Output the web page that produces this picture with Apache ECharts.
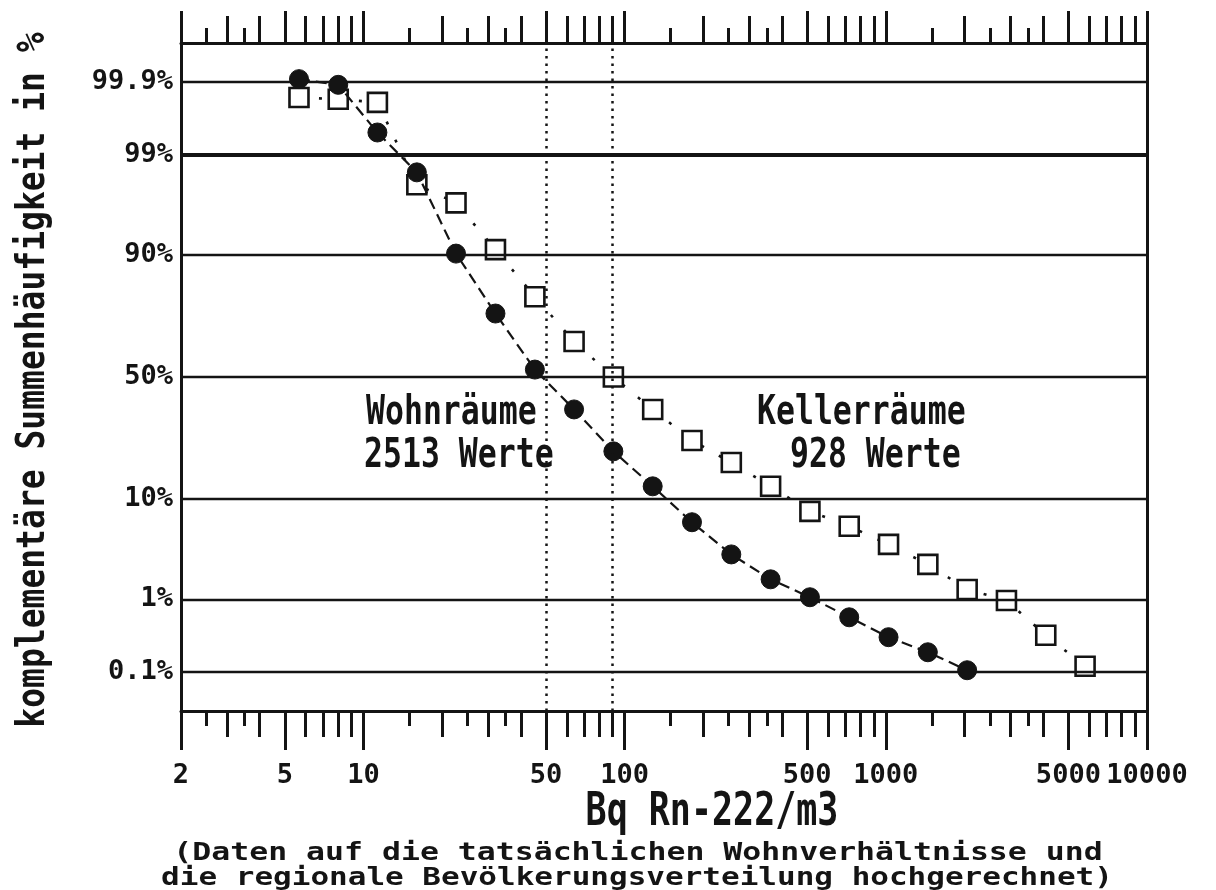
<!DOCTYPE html>
<html><head><meta charset="utf-8">
<script src="https://cdn.jsdelivr.net/npm/echarts@6/dist/echarts.min.js"></script>
<style>html,body{margin:0;padding:0;background:#fff}#c{width:1216px;height:890px}</style>
</head><body><div id="c"></div>
<script>
// Radon concentration classes (Bq/m3)
const radonValues = [5.66, 8, 11.3, 16, 22.6, 32, 45.3, 64, 90.5, 128, 181, 256, 362, 512, 724, 1024, 1448, 2048, 2896, 4096, 5793];
// complementary cumulative frequency in %
const wohnPercent = [99.91, 99.89, 99.48, 98.4, 90.2, 74.7, 53.1, 36.7, 21.8, 12.6, 6.4, 3.15, 1.70, 1.05, 0.59, 0.32, 0.196, 0.106];
const kellerPercent = [99.83, 99.82, 99.80, 97.8, 96.6, 90.9, 80.0, 64.5, 50.0, 36.7, 25.3, 18.5, 12.6, 7.95, 5.9, 3.97, 2.48, 1.30, 0.96, 0.34, 0.122];
const yTickPercents = [0.1, 1, 10, 50, 90, 99, 99.9];
const yTickLabels = ['0.1%', '1%', '10%', '50%', '90%', '99%', '99.9%'];
const xLabelValues = [2, 5, 10, 50, 100, 500, 1000, 5000, 10000];
const xLongTicks = [2, 5, 10, 50, 100, 500, 1000, 5000, 10000];
const xMediumTicks = [3, 4, 6, 7, 8, 9, 20, 30, 40, 60, 70, 80, 90, 200, 300, 400, 600, 700, 800, 900, 2000, 3000, 4000, 6000, 7000, 8000, 9000];
const xShortTicks = [2.5, 3.5, 15, 25, 35, 150, 250, 350, 1500, 2500, 3500];
const refLines = [50, 90];

// probability (normal) scale: inverse standard normal CDF
function probit(pct) {
  const p = pct / 100;
  const a = [-3.969683028665376e+01, 2.209460984245205e+02, -2.759285104469687e+02, 1.383577518672690e+02, -3.066479806614716e+01, 2.506628277459239e+00];
  const b = [-5.447609879822406e+01, 1.615858368580409e+02, -1.556989798598866e+02, 6.680131188771972e+01, -1.328068155288572e+01];
  const c = [-7.784894002430293e-03, -3.223964580411365e-01, -2.400758277161838e+00, -2.549732539343734e+00, 4.374664141464968e+00, 2.938163982698783e+00];
  const d = [7.784695709041462e-03, 3.224671290700398e-01, 2.445134137142996e+00, 3.754408661907416e+00];
  const pl = 0.02425;
  let q, r;
  if (p < pl) {
    q = Math.sqrt(-2 * Math.log(p));
    return (((((c[0]*q+c[1])*q+c[2])*q+c[3])*q+c[4])*q+c[5]) / ((((d[0]*q+d[1])*q+d[2])*q+d[3])*q+1);
  } else if (p <= 1 - pl) {
    q = p - 0.5; r = q * q;
    return (((((a[0]*r+a[1])*r+a[2])*r+a[3])*r+a[4])*r+a[5])*q / (((((b[0]*r+b[1])*r+b[2])*r+b[3])*r+b[4])*r+1);
  } else {
    q = Math.sqrt(-2 * Math.log(1 - p));
    return -(((((c[0]*q+c[1])*q+c[2])*q+c[3])*q+c[4])*q+c[5]) / ((((d[0]*q+d[1])*q+d[2])*q+d[3])*q+1);
  }
}
const yTickZ = yTickPercents.map(probit);

const INK = '#141414';
const MONO = "'DejaVu Sans Mono', monospace";
const labelFont = { fontFamily: MONO, fontWeight: 'bold', fontSize: 27, color: INK };

function xAxisDef(pos, ticks, len, showLine, showLabels) {
  return {
    type: 'log', logBase: 10, min: 2, max: 10000, position: pos, offset: 0,
    axisLine: { show: showLine, onZero: false, lineStyle: { color: INK, width: 3 } },
    axisTick: { show: true, customValues: ticks, length: len, inside: false, lineStyle: { color: INK, width: 3 } },
    axisLabel: showLabels ? Object.assign({ show: true, customValues: xLabelValues, margin: 51, formatter: v => String(v), hideOverlap: false }, labelFont) : { show: false },
    splitLine: { show: false }, minorTick: { show: false }
  };
}

const chart = echarts.init(document.getElementById('c'), null, { renderer: 'canvas' });
chart.setOption({
  animation: false,
  backgroundColor: '#fff',
  grid: { left: 181, right: 69, top: 43, bottom: 179, containLabel: false },
  xAxis: [
    xAxisDef('bottom', xLongTicks, 39, true, true),
    xAxisDef('bottom', xMediumTicks, 26, false, false),
    xAxisDef('bottom', xShortTicks, 15, false, false),
    xAxisDef('top', xLongTicks, 32, true, false),
    xAxisDef('top', xMediumTicks, 27, false, false),
    xAxisDef('top', xShortTicks, 15, false, false)
  ],
  yAxis: [
    {
      type: 'value', min: -3.5, max: 3.5, position: 'left',
      axisLine: { show: true, onZero: false, lineStyle: { color: INK, width: 3 } },
      axisTick: { show: false },
      splitLine: { show: false },
      axisLabel: Object.assign({
        show: true, customValues: yTickZ, margin: 8,
        formatter: v => {
          let best = 0;
          yTickZ.forEach((z, i) => { if (Math.abs(z - v) < Math.abs(yTickZ[best] - v)) best = i; });
          return yTickLabels[best];
        }
      }, labelFont)
    },
    {
      type: 'value', min: -3.5, max: 3.5, position: 'right',
      axisLine: { show: true, onZero: false, lineStyle: { color: INK, width: 3 } },
      axisTick: { show: false }, axisLabel: { show: false }, splitLine: { show: false }
    }
  ],
  series: [
    {
      name: 'grid', type: 'line', data: [], z: 1, silent: true,
      markLine: {
        silent: true, symbol: ['none', 'none'], label: { show: false }, animation: false,
        data: yTickZ.map((z, i) => ({ yAxis: z, lineStyle: { color: INK, type: 'solid', width: yTickLabels[i] === '99%' ? 4 : 2.4 } }))
          .concat(refLines.map(v => ({ xAxis: v, lineStyle: { color: INK, type: [2.5, 5], width: 2.5 } })))
      }
    },
    {
      name: 'Kellerräume', type: 'line', z: 3,
      data: kellerPercent.map((p, i) => [radonValues[i], probit(p)]),
      symbol: 'rect', symbolSize: 19,
      itemStyle: { color: '#fff', borderColor: INK, borderWidth: 2.6 },
      lineStyle: { color: INK, width: 2.6, type: [3, 17] }
    },
    {
      name: 'Wohnräume', type: 'line', z: 4,
      data: wohnPercent.map((p, i) => [radonValues[i], probit(p)]),
      symbol: 'circle', symbolSize: 19,
      itemStyle: { color: INK, borderColor: INK, borderWidth: 1 },
      lineStyle: { color: INK, width: 2.2, type: [11, 6] }
    }
  ],
  graphic: [
    { type: 'text', x: 34, y: 380, rotation: Math.PI / 2, scaleX: 1, scaleY: 1.2,
      style: { text: 'komplementäre Summenhäufigkeit in %', font: "bold 33px " + MONO, fill: INK, textAlign: 'center', textVerticalAlign: 'middle', align: 'center', verticalAlign: 'middle' } },
    { type: 'text', x: 712, y: 813, scaleY: 1.3,
      style: { text: 'Bq Rn-222/m3', font: "bold 35px " + MONO, fill: INK, textAlign: 'center', textVerticalAlign: 'middle', align: 'center', verticalAlign: 'middle' } },
    { type: 'text', x: 638, y: 853, scaleY: 0.8,
      style: { text: '(Daten auf die tatsächlichen Wohnverhältnisse und', font: "bold 31.5px " + MONO, fill: INK, textAlign: 'center', textVerticalAlign: 'middle', align: 'center', verticalAlign: 'middle' } },
    { type: 'text', x: 637, y: 879, scaleY: 0.8,
      style: { text: 'die regionale Bevölkerungsverteilung hochgerechnet)', font: "bold 31px " + MONO, fill: INK, textAlign: 'center', textVerticalAlign: 'middle', align: 'center', verticalAlign: 'middle' } },
    { type: 'text', x: 366, y: 413, scaleY: 1.3,
      style: { text: 'Wohnräume', font: "bold 31.5px " + MONO, fill: INK, textAlign: 'left', textVerticalAlign: 'middle', align: 'left', verticalAlign: 'middle' } },
    { type: 'text', x: 364, y: 456, scaleY: 1.3,
      style: { text: '2513 Werte', font: "bold 31.5px " + MONO, fill: INK, textAlign: 'left', textVerticalAlign: 'middle', align: 'left', verticalAlign: 'middle' } },
    { type: 'text', x: 757, y: 413, scaleY: 1.3,
      style: { text: 'Kellerräume', font: "bold 31.5px " + MONO, fill: INK, textAlign: 'left', textVerticalAlign: 'middle', align: 'left', verticalAlign: 'middle' } },
    { type: 'text', x: 790, y: 456, scaleY: 1.3,
      style: { text: '928 Werte', font: "bold 31.5px " + MONO, fill: INK, textAlign: 'left', textVerticalAlign: 'middle', align: 'left', verticalAlign: 'middle' } }
  ]
});
</script></body></html>
